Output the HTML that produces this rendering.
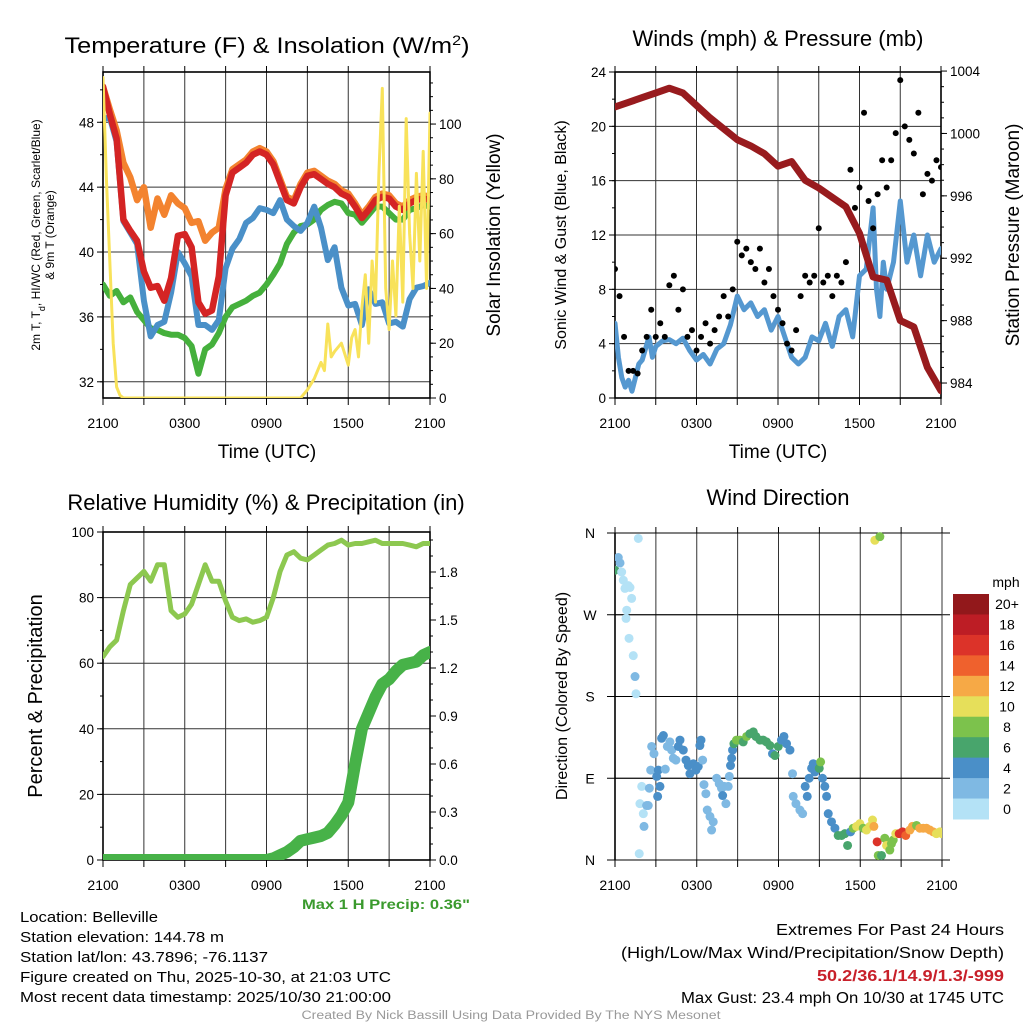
<!DOCTYPE html>
<html><head><meta charset="utf-8"><style>
html,body{margin:0;padding:0;background:#fff;}
svg{display:block;font-family:"Liberation Sans",sans-serif;}
</style></head><body>
<svg id="chart" width="1024" height="1024" viewBox="0 0 1024 1024" xmlns="http://www.w3.org/2000/svg">
<rect x="0" y="0" width="1024" height="1024" fill="#fff"/>
<defs>
<clipPath id="c1"><rect x="103" y="72" width="327" height="326"/></clipPath>
<clipPath id="c2"><rect x="615" y="72" width="326" height="326"/></clipPath>
<clipPath id="c3"><rect x="103" y="532" width="327" height="328"/></clipPath>
<clipPath id="c4"><rect x="615" y="528" width="327" height="336"/></clipPath>
</defs>
<text x="267" y="53" font-size="22" text-anchor="middle" textLength="405" lengthAdjust="spacingAndGlyphs">Temperature (F) &amp; Insolation (W/m<tspan baseline-shift="super" font-size="14">2</tspan>)</text>
<text x="778" y="46" font-size="22" text-anchor="middle">Winds (mph) &amp; Pressure (mb)</text>
<text x="266" y="510" font-size="22" text-anchor="middle">Relative Humidity (%) &amp; Precipitation (in)</text>
<text x="778" y="505" font-size="22" text-anchor="middle">Wind Direction</text>
<text x="267" y="458" font-size="19" text-anchor="middle">Time (UTC)</text>
<text x="778" y="458" font-size="19" text-anchor="middle">Time (UTC)</text>
<text transform="translate(40,235) rotate(-90)" font-size="12" text-anchor="middle">2m T, T<tspan baseline-shift="sub" font-size="9">d</tspan>, HI/WC (Red, Green, Scarlet/Blue)</text>
<text transform="translate(54,235) rotate(-90)" font-size="12" text-anchor="middle">&amp; 9m T (Orange)</text>
<text transform="translate(500,235) rotate(-90)" font-size="19" text-anchor="middle">Solar Insolation (Yellow)</text>
<text transform="translate(566,235) rotate(-90)" font-size="16" text-anchor="middle">Sonic Wind &amp; Gust (Blue, Black)</text>
<text transform="translate(1019,235) rotate(-90)" font-size="19" text-anchor="middle">Station Pressure (Maroon)</text>
<text transform="translate(42,696) rotate(-90)" font-size="20" text-anchor="middle">Percent &amp; Precipitation</text>
<text transform="translate(567,696) rotate(-90)" font-size="16" text-anchor="middle">Direction (Colored By Speed)</text>
<text x="470" y="909" font-size="14" font-weight="bold" fill="#3a9a2d" text-anchor="end" textLength="168" lengthAdjust="spacingAndGlyphs">Max 1 H Precip: 0.36"</text>
<g font-size="14.5">
<text x="20" y="922" textLength="138" lengthAdjust="spacingAndGlyphs">Location: Belleville</text>
<text x="20" y="942" textLength="204" lengthAdjust="spacingAndGlyphs">Station elevation: 144.78 m</text>
<text x="20" y="962" textLength="248" lengthAdjust="spacingAndGlyphs">Station lat/lon: 43.7896; -76.1137</text>
<text x="20" y="982" textLength="371" lengthAdjust="spacingAndGlyphs">Figure created on Thu, 2025-10-30, at 21:03 UTC</text>
<text x="20" y="1002" textLength="371" lengthAdjust="spacingAndGlyphs">Most recent data timestamp: 2025/10/30 21:00:00</text>
</g>
<g font-size="15.5" text-anchor="end">
<text x="1004" y="935" textLength="228" lengthAdjust="spacingAndGlyphs">Extremes For Past 24 Hours</text>
<text x="1004" y="958" textLength="383" lengthAdjust="spacingAndGlyphs">(High/Low/Max Wind/Precipitation/Snow Depth)</text>
<text x="1004" y="981" fill="#c8202a" font-weight="bold" textLength="187" lengthAdjust="spacingAndGlyphs">50.2/36.1/14.9/1.3/-999</text>
<text x="1004" y="1003" textLength="323" lengthAdjust="spacingAndGlyphs">Max Gust: 23.4 mph On 10/30 at 1745 UTC</text>
</g>
<text x="511" y="1019" font-size="11.5" fill="#999" text-anchor="middle" textLength="419" lengthAdjust="spacingAndGlyphs">Created By Nick Bassill Using Data Provided By The NYS Mesonet</text>
</svg>
<script>
// ---------- DATA ----------
const xTickLabels = ["2100","0300","0900","1500","2100"];
const halfHours = [0,0.5,1,1.5,2,2.5,3,3.5,4,4.5,5,5.5,6,6.5,7,7.5,8,8.5,9,9.5,10,10.5,11,11.5,12,12.5,13,13.5,14,14.5,15,15.5,16,16.5,17,17.5,18,18.5,19,19.5,20,20.5,21,21.5,22,22.5,23,23.5,24];
const temp2m = [50.2,48.5,47,42,41.3,40.7,38.8,37.8,37.9,37.0,38.4,41.0,41.1,40.3,36.9,36.2,36.4,38.5,43.5,44.9,45.2,45.5,46,46.2,46,45.4,44.3,43.2,43.0,44.0,44.7,44.8,44.5,44.2,44.0,43.6,43.4,42.8,42.1,42.6,43.2,43.4,43.3,42.8,42.6,43.0,43.2,43.3,43.2];
const temp9m = [50.2,48.8,47.5,45.5,44.6,43.2,44.0,41.5,43.3,42.3,43.5,43.0,42.7,41.8,41.9,40.7,41.2,41.5,43.9,45.1,45.4,45.7,46.2,46.4,46.2,45.6,44.5,43.4,43.2,44.2,44.9,45.0,44.7,44.4,44.2,43.8,43.6,43.0,42.3,42.8,43.4,43.6,43.5,43.0,42.8,43.2,43.4,43.5,43.4];
const windChill = [48.2,48.3,46.8,41.9,41.2,40.5,37,34.8,35.5,35.7,37.5,40,39.3,38.5,35.5,35.5,35.2,35.8,39,40.2,40.8,41.8,42.1,42.7,42.6,42.4,43.2,42,41.6,41.3,41.8,42.8,41.5,39.5,40.3,37.8,36.7,36.8,35.5,37.7,36.8,36.9,35.6,35.7,35.4,37.1,37.8,37.9,38.1];
const dewPoint = [38,37.3,37.6,36.9,37.2,36.3,35.8,35.3,35.2,35,34.9,34.9,34.7,34.2,32.5,34,34.3,35,36,36.6,36.8,37,37.3,37.5,38,38.6,39.3,40.5,41.2,41.6,41.7,42,42.6,42.9,43.1,43,42.4,42.3,41.8,42.3,42.8,42.8,42.4,42,42,42.6,42.7,42.9,42.8];
const solarHours = [0,0.25,0.5,0.75,1,1.25,1.5,14.5,15,15.5,16,16.25,16.5,16.75,17,17.5,18,18.25,18.5,18.75,19,19.25,19.5,19.75,20,20.25,20.5,20.75,21,21.25,21.5,21.75,22,22.25,22.5,22.75,23,23.25,23.5,23.75,24];
const solarValues = [117,80,50,20,4,1,0,0,3,7,13,10,27,15,17,20,12,22,25,15,33,45,20,50,35,82,113,40,25,50,30,70,35,102,60,40,82,50,90,40,104];
const tempTicks = [32,36,40,44,48];
const solarTicks = [0,20,40,60,80,100];

const windHours = [0,0.25,0.5,0.75,1,1.25,1.5,1.75,2,2.5,2.75,3,3.5,4,4.5,5,5.5,6,6.5,7,7.5,8,8.5,9,9.5,10,10.5,11,11.5,12,12.5,13,13.5,14,14.5,15,15.5,16,16.5,17,17.5,18,18.5,19,19.25,19.5,19.75,20,20.5,21,21.5,22,22.5,23,23.5,24];
const windSpeed = [5.5,3,1.5,0.8,1.3,0.5,1.5,2.5,2.8,4.5,3,3.8,4.2,4.3,4,4.4,3.5,2.8,3.2,2.5,3.6,4,5.4,7.5,6.5,7,6,6.5,5,6,4.5,3,2.5,3,4.5,4.2,5.5,3.8,6,6.5,4.5,9,9.5,14,8,6,10,8,10,14.5,10,12,9,12,10,11];
const gustSpeed = [9.5,7.5,4.5,2,2,1.8,3.5,4.5,6.5,4.5,5.5,4.5,8.3,9,6.5,8,4.5,5,3.5,4.5,5.5,4,5,6,7.5,6,8,11.5,10.5,11,10,9.5,11,8.5,9.5,7.5,6.5,5.5,4,3.5,5,7.5,9,8.5,9,12.5,8.5,9,7.5,9,8.5,10,16.8,14,15.5,21,14.5,12.5,15,17.5,15.5,17.5,19.5,23.4,20,19,18,21,15,16.5,16,17.5,17];
const pressureHours = [0,1,2,3,4,5,6,7,8,9,10,11,12,13,14,15,16,17,18,19,20,21,22,23,24];
const pressure = [1001.7,1002,1002.3,1002.6,1002.9,1002.6,1001.8,1001,1000.3,999.6,999.2,998.7,997.9,998.2,997.0,996.5,995.9,995.3,993.6,990.8,990.6,988.0,987.6,985,983.5];
const windTicks = [0,4,8,12,16,20,24];
const pressureTicks = [984,988,992,996,1000,1004];

const rhValues = [62,65,67,76,84,86,88,85,90,90,76,74,75,78,84,90,85,85,79,74,73,73.5,72.5,73,74,80,88,93,94,92,91.5,93,94.5,96,96.5,97.5,96,96.5,96.5,97,97.5,96.5,96.5,96.5,96.5,96,95.5,96.5,96.5];
const precipValues = [0,0,0,0,0,0,0,0,0,0,0,0,0,0,0,0,0,0,0,0,0,0,0,0,0,0.01,0.03,0.05,0.08,0.12,0.13,0.14,0.15,0.17,0.22,0.28,0.36,0.6,0.82,0.92,1.02,1.1,1.13,1.18,1.22,1.23,1.24,1.28,1.3];
const rhTicks = [0,20,40,60,80,100];
const precipTicks = ["0.0","0.3","0.6","0.9","1.2","1.5","1.8"];

const dirHours = [0,0.24,0.37,0.49,0.61,0.73,0.98,1.10,1.22,0.86,0.81,1.03,1.34,1.47,1.54,1.71,1.83,1.78,1.96,2.08,2.13,2.32,2.44,2.52,2.62,2.69,2.86,3.06,3.13,3.30,3.18,3.42,3.55,3.69,3.84,4.03,4.16,4.28,4.47,4.65,4.77,5.01,5.21,5.38,5.50,5.75,5.94,6.11,6.23,6.31,6.43,6.53,6.67,6.77,6.97,7.09,7.21,7.46,7.65,7.82,7.90,8.02,8.14,8.31,8.39,8.48,8.56,8.63,8.73,8.92,9.17,9.41,9.66,9.90,10.15,10.34,10.64,10.88,11.12,11.37,11.56,11.74,11.98,12.22,12.40,12.59,12.84,13.03,13.08,13.28,13.57,13.77,13.96,14.11,14.25,14.43,14.55,14.67,14.79,14.99,15.09,15.23,15.40,15.53,15.65,15.89,16.14,16.38,16.63,16.87,17.07,17.29,17.48,17.73,17.97,18.22,18.46,18.70,18.90,19.00,19.24,19.32,19.56,19.80,19.93,20.17,20.29,20.42,20.61,20.86,21.10,21.34,21.64,21.83,22.13,22.37,22.62,22.86,23.11,23.35,23.59,23.84,24.0,19.07,19.44];
const dirDegrees = [319,333,327,317,308,299,302,300,288,275,266,244,225,202,183,354,62,7,81,51,37,60,60,79,99,125,117,92,70,81,99,134,137,100,125,130,121,112,110,125,132,121,110,104,95,106,99,103,126,132,110,83,73,55,48,33,42,90,84,79,71,81,62,81,92,104,112,121,128,132,132,130,136,139,141,136,132,132,130,126,117,115,125,132,136,128,121,95,70,62,55,51,81,70,90,101,106,97,103,101,108,90,81,70,51,42,35,27,27,29,16,31,35,37,40,35,33,37,44,37,20,5,5,24,16,11,18,22,29,29,31,27,33,37,38,35,35,35,33,31,29,31,29,352,356];
const dirSpeed = [6,3,3,1,1,1,1,0,0,1,0,1,1,3,0,0,0,0,0,0,2,2,3,3,2,2,2,4,4,4,4,4,4,2,2,2,2,2,2,4,4,4,4,4,4,4,4,4,4,4,2,2,2,2,2,2,2,2,2,2,4,2,2,2,2,4,4,4,6,8,8,6,8,6,6,6,6,6,6,6,4,6,6,4,4,4,4,2,2,2,2,2,4,4,4,4,4,4,4,6,8,4,4,4,4,4,4,6,6,6,6,4,8,10,10,8,10,10,10,12,16,8,6,8,10,8,8,8,10,16,16,14,12,12,8,12,12,12,12,12,10,10,10,10,8,6];
const dirTicks = ["N","E","S","W","N"];
const speedBinLabels = ["0","2","4","6","8","10","12","14","16","18","20+"];
const speedBinColors = ["#b4e2f6","#7fb9e3","#4a8fc8","#48a56c","#7cc24c","#e6df5a","#f6a946","#ef612d","#dc3329","#bd1d25","#92181b"];

// ---------- HELPERS ----------
const NS = 'http://www.w3.org/2000/svg';
const svg = document.getElementById('chart');
function mk(tag, attrs, parent) {
  const e = document.createElementNS(NS, tag);
  for (const k in attrs) e.setAttribute(k, attrs[k]);
  (parent || svg).appendChild(e);
  return e;
}
function scale(d0, d1, r0, r1) { return v => r0 + (v - d0) / (d1 - d0) * (r1 - r0); }

function drawFrame(P, name) {
  const g = mk('g', {});
  
  
  for (let h = 3; h < 24; h += 3) {
    const x = P.tx(h);
    const l = mk('line', {x1: x, x2: x, y1: P.yt, y2: P.yb, stroke: '#333', 'stroke-width': 1}, g);
    
    
  }
  for (let h = 0; h <= 24; h += 3) {
    const x = P.tx(h);
    mk('line', {x1: x, x2: x, y1: P.yb, y2: P.yb + 7, stroke: '#000', 'stroke-width': 1}, g);
    mk('line', {x1: x, x2: x, y1: P.yt, y2: P.yt - 6, stroke: '#000', 'stroke-width': 1}, g);
  }
  xTickLabels.forEach((lab, i) => {
    const t = mk('text', {x: P.tx(i * 6), y: P.yb + 30, 'font-size': 14, 'text-anchor': 'middle'}, g);
    
    
    t.textContent = lab;
  });
  return g;
}
function leftTicks(P, g, ticks, ys, minor) {
  ticks.forEach(v => {
    const y = ys(v);
    if (y > P.yt + 1 && y < P.yb - 1) mk('line', {x1: P.x0, x2: P.x1, y1: y, y2: y, stroke: '#333', 'stroke-width': 1}, g);
    mk('line', {x1: P.x0 - 6, x2: P.x0, y1: y, y2: y, stroke: '#000'}, g);
    const t = mk('text', {x: P.x0 - 9, y: y + 5, 'font-size': 13.5, 'text-anchor': 'end'}, g);
    
    
    t.textContent = v;
  });
  minor.forEach(v => { const y = ys(v); mk('line', {x1: P.x0 - 3, x2: P.x0, y1: y, y2: y, stroke: '#000'}, g); });
}
function rightTicks(P, g, ticks, ys, minor) {
  ticks.forEach(v => {
    const y = ys(+v);
    mk('line', {x1: P.x1, x2: P.x1 + 6, y1: y, y2: y, stroke: '#000'}, g);
    const t = mk('text', {x: P.x1 + 9, y: y + 5, 'font-size': 13.5}, g);
    
    
    t.textContent = v;
  });
  minor.forEach(v => { const y = ys(v); mk('line', {x1: P.x1, x2: P.x1 + 3, y1: y, y2: y, stroke: '#000'}, g); });
}
function border(P, g) {
  mk('rect', {x: P.x0, y: P.yt, width: P.x1 - P.x0, height: P.yb - P.yt, fill: 'none', stroke: '#000', 'stroke-width': 1.6}, g);
}
function line(hours, vals, tx, ty, color, w, clip, name) {
  const pts = hours.map((h, i) => tx(h).toFixed(1) + ',' + ty(vals[i]).toFixed(1)).join(' ');
  const p = mk('polyline', {points: pts, fill: 'none', stroke: color, 'stroke-width': w, 'stroke-linejoin': 'round', 'stroke-linecap': 'round', 'clip-path': 'url(#' + clip + ')'});
  
  
  return p;
}
function range(a, b, s) { const r = []; for (let v = a; v <= b + 1e-9; v += s) r.push(v); return r; }

// ---------- PANEL 1: Temperature ----------
const P1 = {x0: 103, x1: 430, yt: 72, yb: 398};
P1.tx = scale(0, 24, P1.x0, P1.x1);
const t1y = scale(31.0, 51.1, P1.yb, P1.yt);
const s1y = scale(0, 119, P1.yb, P1.yt);
const g1 = drawFrame(P1, 'temperature');
leftTicks(P1, g1, tempTicks, t1y, range(32, 50, 2));
rightTicks(P1, g1, solarTicks, s1y, range(0, 115, 5));
line(halfHours, dewPoint, P1.tx, t1y, '#45b03c', 6, 'c1', 'dewpoint-line');
line(halfHours, windChill, P1.tx, t1y, '#4a90c8', 6, 'c1', 'windchill-line');
line(halfHours, temp9m, P1.tx, t1y, '#f3832f', 6.5, 'c1', 'temp-9m-line');
line(halfHours, temp2m, P1.tx, t1y, '#d42424', 6.5, 'c1', 'temp-2m-line');
line(solarHours, solarValues, P1.tx, s1y, '#f8e25a', 3, 'c1', 'solar-insolation-line');
border(P1, g1);

// ---------- PANEL 2: Winds ----------
const P2 = {x0: 615, x1: 941, yt: 72, yb: 398};
P2.tx = scale(0, 24, P2.x0, P2.x1);
const w2y = scale(0, 24, P2.yb, P2.yt);
const p2y = scale(983.04, 1003.94, P2.yb, P2.yt);
const g2 = drawFrame(P2, 'winds');
leftTicks(P2, g2, windTicks, w2y, range(0, 24, 2));
rightTicks(P2, g2, pressureTicks, p2y, range(984, 1003, 1));
line(windHours, windSpeed, P2.tx, w2y, '#5598d0', 5, 'c2', 'wind-speed-line');
line(pressureHours, pressure, P2.tx, p2y, '#981b1e', 7, 'c2', 'pressure-line');
gustSpeed.forEach((v, i) => {
  const c = mk('circle', {cx: P2.tx(i / 3), cy: w2y(v), r: 3, fill: '#000', 'clip-path': 'url(#c2)'});
  
  
});
border(P2, g2);

// ---------- PANEL 3: Humidity / Precip ----------
const P3 = {x0: 103, x1: 430, yt: 532, yb: 860};
P3.tx = scale(0, 24, P3.x0, P3.x1);
const r3y = scale(0, 100, P3.yb, P3.yt);
const q3y = scale(0, 2.05, P3.yb, P3.yt);
const g3 = drawFrame(P3, 'humidity');
leftTicks(P3, g3, rhTicks, r3y, range(0, 100, 10));
rightTicks(P3, g3, precipTicks, q3y, range(0, 2.0, 0.1));
line(halfHours, rhValues, P3.tx, r3y, '#8dc850', 5, 'c3', 'relative-humidity-line');
line(halfHours, precipValues, P3.tx, q3y, '#47b248', 12, 'c3', 'precipitation-line');
border(P3, g3);

// ---------- PANEL 4: Wind Direction ----------
const P4 = {x0: 615, x1: 942, yt: 533, yb: 860};
P4.tx = scale(0, 24, P4.x0, P4.x1);
const d4y = scale(0, 360, P4.yb, P4.yt);
const g4 = drawFrame(P4, 'wind-direction');
dirTicks.forEach((lab, i) => {
  const y = d4y(i * 90);
  if (i > 0 && i < 4) mk('line', {x1: P4.x0, x2: P4.x1, y1: y, y2: y, stroke: '#333'}, g4);
  mk('line', {x1: P4.x0 - 8, x2: P4.x1 + 8, y1: y, y2: y, stroke: '#000'}, g4);
  const t = mk('text', {x: P4.x0 - 25, y: y + 5, 'font-size': 14, 'text-anchor': 'middle'}, g4);
  
  
  t.textContent = lab;
});
mk('line', {x1: P4.x0, x2: P4.x0, y1: P4.yt, y2: P4.yb, stroke: '#000', 'stroke-width': 1.6}, g4);
mk('line', {x1: P4.x1, x2: P4.x1, y1: P4.yt, y2: P4.yb, stroke: '#333', 'stroke-width': 1}, g4);
dirDegrees.forEach((d, i) => {
  const bin = Math.min(10, Math.floor(dirSpeed[i] / 2));
  const c = mk('circle', {cx: P4.tx(dirHours[i]), cy: d4y(d), r: 4.5, fill: speedBinColors[bin], 'clip-path': 'url(#c4)'});
  
  
});
const cb = mk('g', {});


const cbTop = 594, cbH = 225 / 11;
speedBinLabels.forEach((lab, i) => {
  const idx = 10 - i;
  const y = cbTop + i * cbH;
  const r = mk('rect', {x: 953, y: y, width: 36, height: cbH + 0.5, fill: speedBinColors[idx]}, cb);
  
  
  const t = mk('text', {x: 1007, y: y + cbH / 2 + 5, 'font-size': 14, 'text-anchor': 'middle'}, cb);
  
  
  t.textContent = speedBinLabels[idx];
});
const mph = mk('text', {x: 1006, y: 587, 'font-size': 14, 'text-anchor': 'middle'}, cb);


mph.textContent = 'mph';
</script>
</body></html>
